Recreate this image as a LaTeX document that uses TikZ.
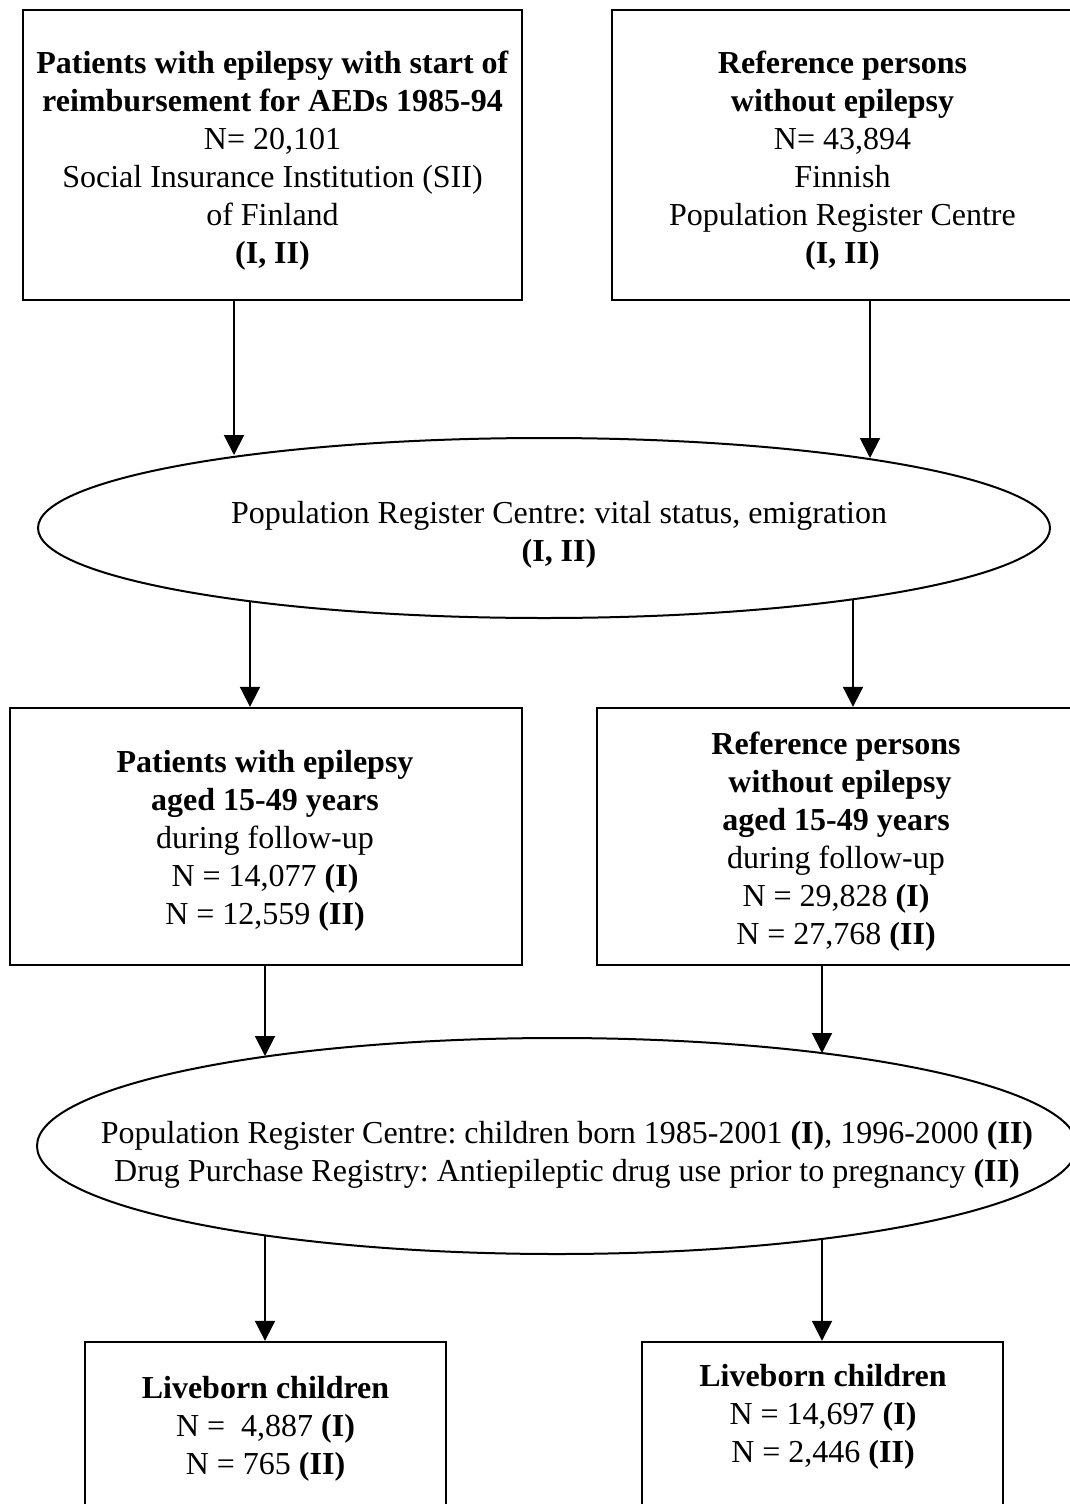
\documentclass[tikz,border=0pt]{standalone}
\usepackage{fontspec}
\setmainfont{Liberation Serif}
\usetikzlibrary{arrows.meta,shapes.geometric}
\frenchspacing
\begin{document}
\begin{tikzpicture}[x=1pt,y=-1pt,
  box/.style={draw,line width=2.4pt,rectangle,inner sep=0pt},
  oval/.style={draw,line width=2pt,ellipse,inner sep=0pt},
  txt/.style={align=center,font=\fontsize{32}{38}\selectfont,inner sep=0pt},
  arr/.style={line width=2pt,-{Triangle[length=20pt,width=20pt]}}]
\useasboundingbox (0,0) rectangle (1070,1504);
\clip (0,0) rectangle (1070,1504);

% top boxes
\node[box,minimum width=499pt,minimum height=290pt] (b1) at (272.5,155) {};
\node[txt] (b1t) at (272.5,161)
 {\textbf{Patients with epilepsy with start of}\\\textbf{reimbursement for AEDs 1985-94}\\N= 20,101\\Social Insurance Institution (SII)\\of Finland\\\textbf{(I, II)}};
\node[box,minimum width=463pt,minimum height=290pt] (b2) at (843.5,155) {};
\node[txt] (b2t) at (842.5,161)
 {\textbf{Reference persons}\\\textbf{without epilepsy}\\N= 43,894\\Finnish\\Population Register Centre\\\textbf{(I, II)}};

% first ellipse
\node[oval,minimum width=1012pt,minimum height=180pt] (e1) at (544,528) {};
\node[txt] (e1t) at (559,535) {Population Register Centre: vital status, emigration\\\textbf{(I, II)}};

% middle boxes
\node[box,minimum width=512pt,minimum height=257pt] (b3) at (266,836.5) {};
\node[txt] (b3t) at (265,841)
 {\textbf{Patients with epilepsy}\\\textbf{aged 15-49 years}\\during follow-up\\N = 14,077 \textbf{(I)}\\N = 12,559 \textbf{(II)}};
\node[box,minimum width=478pt,minimum height=257pt] (b4) at (836,836.5) {};
\node[txt] (b4t) at (836,841.5)
 {\textbf{Reference persons}\\\textbf{\ without epilepsy}\\\textbf{aged 15-49 years}\\during follow-up\\N = 29,828 \textbf{(I)}\\N = 27,768 \textbf{(II)}};

% second ellipse
\node[oval,minimum width=1040pt,minimum height=216pt] (e2) at (557,1146) {};
\node[txt] (e2t) at (567,1155) {Population Register Centre: children born 1985-2001 \textbf{(I)}, 1996-2000 \textbf{(II)}\\Drug Purchase Registry: Antiepileptic drug use prior to pregnancy \textbf{(II)}};

% bottom boxes
\node[box,minimum width=361pt,minimum height=168pt] (b5) at (265.5,1426) {};
\node[txt] (b5t) at (265.5,1429)
 {\textbf{Liveborn children}\\N = \ 4,887 \textbf{(I)}\\N = 765 \textbf{(II)}};
\node[box,minimum width=361pt,minimum height=168pt] (b6) at (822.5,1426) {};
\node[txt] (b6t) at (823,1417) {\textbf{Liveborn children}\\N = 14,697 \textbf{(I)}\\N = 2,446 \textbf{(II)}};

% border points on the ellipses
\coordinate (p1) at (234,455);
\coordinate (p2) at (870,458);
\coordinate (q1) at (250,601);
\coordinate (q2) at (853,599);
\coordinate (p3) at (265,1056);
\coordinate (p4) at (822,1053);
\coordinate (q3) at (265,1235);
\coordinate (q4) at (822,1239);

% connectors
\draw[arr] (b1.south -| p1) -- (p1);
\draw[arr] (b2.south -| p2) -- (p2);
\draw[arr] (q1) -- (q1 |- b3.north);
\draw[arr] (q2) -- (q2 |- b4.north);
\draw[arr] (b3.south -| p3) -- (p3);
\draw[arr] (b4.south -| p4) -- (p4);
\draw[arr] (q3) -- (q3 |- b5.north);
\draw[arr] (q4) -- (q4 |- b6.north);
\end{tikzpicture}
\end{document}
